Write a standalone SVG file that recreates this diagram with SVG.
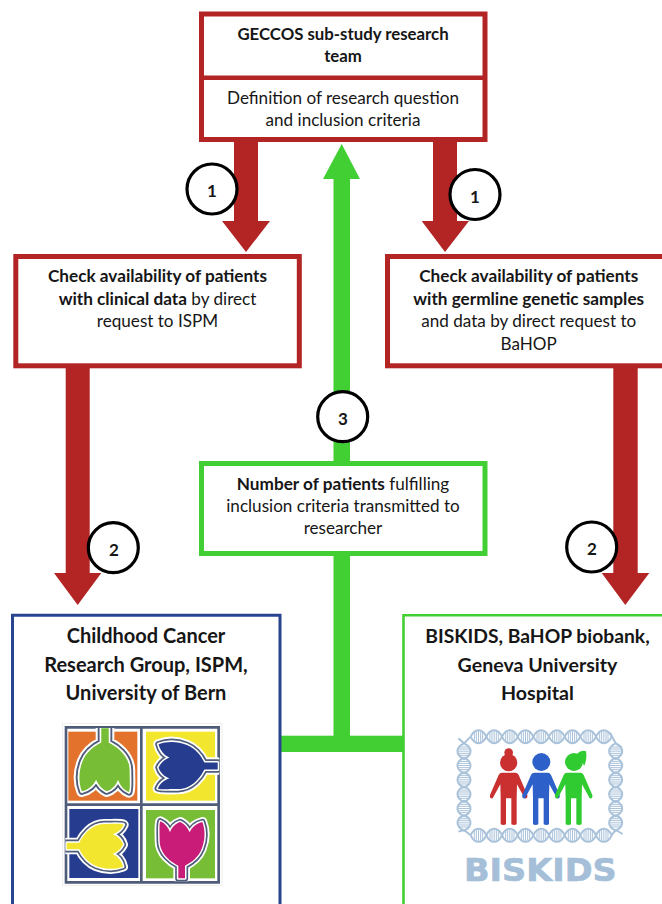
<svg xmlns="http://www.w3.org/2000/svg" xmlns:xlink="http://www.w3.org/1999/xlink" width="662" height="904" viewBox="0 0 662 904">
<style>
text{font-family:Lato,"Open Sans","Liberation Sans",sans-serif;fill:#161616;text-anchor:middle}
.t{font-size:17.100px}
.h{font-size:20px;font-weight:700}
.b{font-weight:700;font-size:17.200px}
.n{font-size:17px;font-weight:700}
.red{fill:#fff;stroke:#b32524;stroke-width:5}
.grn{fill:#fff;stroke:#42cf33;stroke-width:5}
.ra{fill:#b32524}
.ga{fill:#42cf33}
.c{fill:#fff;stroke:#000;stroke-width:3.2}
.hx{fill:none;stroke:#a9c2da;stroke-width:6}
.rg{stroke:#a9c2da;stroke-width:3}
.o1{fill:#fff;stroke:#fff;stroke-width:30;stroke-linejoin:round}
.o2{fill:#4f5d7a;stroke:#4f5d7a;stroke-width:19;stroke-linejoin:round}
.o3{fill:#fff;stroke:#fff;stroke-width:9;stroke-linejoin:round}
.fr{fill:none;stroke:#4f5d7a;stroke-width:8}
</style>
<defs>
<path id="tulip" d="M-10,103 L-10,65 C-30,55 -66,30 -66,-10 C-66,-40 -68,-60 -64,-68 C-50,-62 -40,-50 -35,-35 C-30,-50 -18,-62 -4,-66 C8,-60 18,-50 24,-35 C30,-50 45,-62 62,-66 C72,-40 70,-10 60,15 C50,40 30,55 10,65 L10,103 Z"/>
<clipPath id="t1"><rect x="82" y="54" width="218" height="226"/></clipPath>
<clipPath id="t2"><rect x="308" y="56" width="230" height="224"/></clipPath>
<clipPath id="t3"><rect x="76" y="288" width="224" height="225"/></clipPath>
<clipPath id="t4"><rect x="308" y="288" width="224" height="226"/></clipPath>
<g id="lens">
<path class="hx" d="M0,0 C12,-26 35,-26 47,0 C35,26 12,26 0,0"/>
<path class="rg" d="M11,-13V13M17,-16V16M23.500,-17V17M30,-16V16M36,-13V13"/>
</g>
<path id="person" d="M-20,33 H20 Q27,33 30,40 L56,100 Q58,112 48,110 L25,68 L24,110 V188 Q16,192 8,188 V110 H-8 V188 Q-16,192 -24,188 V110 L-25,68 L-48,110 Q-58,112 -56,100 L-30,40 Q-27,33 -20,33 Z"/>
</defs>

<g id="connectors">
<path class="ra" d="M234,140H258V221H270L246,252L222,221H234Z"/>
<path class="ra" d="M433,140H457V221H469L445,252L421.700,221H433Z"/>
<path class="ra" d="M65.700,366H89.700V573H101.300L77.700,605L54,573H65.700Z"/>
<path class="ra" d="M613.300,366H637.700V573H649.300L625.300,605L601.700,573H613.300Z"/>
<path class="ga" d="M333.500,465V179H323L341.700,144L360,179H350V465Z"/>
<rect class="ga" x="333.500" y="553" width="16.500" height="190"/>
<rect class="ga" x="280" y="735.700" width="124" height="16.300"/>
</g>

<g id="team-box">
<rect class="red" x="201.500" y="14" width="283.500" height="125.500"/>
<path d="M201.500,77.800H485" fill="none" stroke="#b32524" stroke-width="4.500"/>
<text class="t b" x="343" y="40" style="font-size:16.800px">GECCOS sub-study research</text>
<text class="t b" x="343" y="62" style="font-size:16.800px">team</text>
<text class="t" x="343" y="104">Definition of research question</text>
<text class="t" x="343" y="126">and inclusion criteria</text>
</g>

<g id="check-clinical">
<rect class="red" x="15.800" y="256.500" width="283.500" height="109.300"/>
<text class="t" x="157.500" y="282"><tspan class="b">Check availability of patients</tspan></text>
<text class="t" x="157.500" y="305"><tspan class="b">with clinical data</tspan> by direct</text>
<text class="t" x="157.500" y="327">request to ISPM</text>
</g>

<g id="check-germline">
<rect class="red" x="387.500" y="256.500" width="290" height="109.300"/>
<text class="t" x="528.700" y="282"><tspan class="b">Check availability of patients</tspan></text>
<text class="t" x="528.700" y="305"><tspan class="b">with germline genetic samples</tspan></text>
<text class="t" x="528.700" y="327">and data by direct request to</text>
<text class="t" x="528.700" y="350">BaHOP</text>
</g>

<g id="patients-box">
<rect class="grn" x="201.500" y="463.500" width="283.500" height="90"/>
<text class="t" x="343" y="490"><tspan class="b">Number of patients</tspan> fulfilling</text>
<text class="t" x="343" y="512">inclusion criteria transmitted to</text>
<text class="t" x="343" y="534">researcher</text>
</g>

<g id="ispm-box">
<path d="M12.500,910V615.300H280V910" fill="#fff" stroke="#2a4590" stroke-width="3"/>
<text class="h" x="146" y="643">Childhood Cancer</text>
<text class="h" x="146" y="672">Research Group, ISPM,</text>
<text class="h" x="146" y="700">University of Bern</text>
<g transform="translate(40 710) scale(.33333)">
<rect x="68" y="40" width="478" height="486" fill="#fff" stroke="#eee" stroke-width="3"/>
<rect x="85" y="65" width="207" height="207" fill="#e2722c"/>
<rect x="318" y="65" width="207" height="207" fill="#f2e62e"/>
<rect x="88" y="297" width="207" height="207" fill="#263c8e"/>
<rect x="318" y="300" width="207" height="205" fill="#78bd36"/>
<path class="fr" d="M78,52H536V517H78ZM304,52V517M78,284H536"/>
<g clip-path="url(#t1)"><g transform="translate(195 170) rotate(180) scale(1.12)"><use xlink:href="#tulip" href="#tulip" class="o1"/><use xlink:href="#tulip" href="#tulip" class="o2"/><use xlink:href="#tulip" href="#tulip" class="o3"/><use xlink:href="#tulip" href="#tulip" fill="#78bd36"/></g></g>
<g clip-path="url(#t2)"><g transform="translate(425 168) rotate(-90) scale(1.05)"><use xlink:href="#tulip" href="#tulip" class="o1"/><use xlink:href="#tulip" href="#tulip" class="o2"/><use xlink:href="#tulip" href="#tulip" class="o3"/><use xlink:href="#tulip" href="#tulip" fill="#263c8e"/></g></g>
<g clip-path="url(#t3)"><g transform="translate(183 408) rotate(90)"><use xlink:href="#tulip" href="#tulip" class="o1"/><use xlink:href="#tulip" href="#tulip" class="o2"/><use xlink:href="#tulip" href="#tulip" class="o3"/><use xlink:href="#tulip" href="#tulip" fill="#f2e62e"/></g></g>
<g clip-path="url(#t4)"><g transform="translate(425 402)"><use xlink:href="#tulip" href="#tulip" class="o1"/><use xlink:href="#tulip" href="#tulip" class="o2"/><use xlink:href="#tulip" href="#tulip" class="o3"/><use xlink:href="#tulip" href="#tulip" fill="#c81c78"/></g></g>
</g>
</g>

<g id="biskids-box">
<path d="M403.500,910V615.300H670V910" fill="#fff" stroke="#42cf33" stroke-width="2.600"/>
<text class="h" x="537.500" y="643" style="font-size:19.300px">BISKIDS, BaHOP biobank,</text>
<text class="h" x="537.500" y="672" style="font-size:19.600px">Geneva University</text>
<text class="h" x="537.500" y="700" style="font-size:19.600px">Hospital</text>
<g transform="translate(440 720) scale(.33333)">
<g id="dna-top"><use xlink:href="#lens" href="#lens" x="92" y="50"/><use xlink:href="#lens" href="#lens" x="139" y="50"/><use xlink:href="#lens" href="#lens" x="186" y="50"/><use xlink:href="#lens" href="#lens" x="233" y="50"/><use xlink:href="#lens" href="#lens" x="280" y="50"/><use xlink:href="#lens" href="#lens" x="327" y="50"/><use xlink:href="#lens" href="#lens" x="374" y="50"/><use xlink:href="#lens" href="#lens" x="421" y="50"/><use xlink:href="#lens" href="#lens" x="468" y="50"/></g>
<use xlink:href="#dna-top" href="#dna-top" y="296"/>
<g id="dna-left"><use xlink:href="#lens" href="#lens" transform="translate(72 70) rotate(90)"/><use xlink:href="#lens" href="#lens" transform="translate(72 113) rotate(90)"/><use xlink:href="#lens" href="#lens" transform="translate(72 156) rotate(90)"/><use xlink:href="#lens" href="#lens" transform="translate(72 199) rotate(90)"/><use xlink:href="#lens" href="#lens" transform="translate(72 242) rotate(90)"/><use xlink:href="#lens" href="#lens" transform="translate(72 285) rotate(90)"/></g>
<use xlink:href="#dna-left" href="#dna-left" x="455"/>
<path class="hx" d="M55,55L72,70L92,50M510,38L527,70L545,82M55,335L72,330L92,346M514,346L527,330L548,342"/>
<use xlink:href="#person" href="#person" fill="#c9302f" transform="translate(206 125)"/>
<circle cx="206" cy="128" r="26" fill="#c9302f"/><circle cx="206" cy="98" r="13" fill="#c9302f"/>
<use xlink:href="#person" href="#person" fill="#2d60c8" transform="translate(303 125)"/>
<circle cx="304" cy="126" r="27" fill="#2d60c8"/>
<use xlink:href="#person" href="#person" fill="#2fcb30" transform="translate(401 125)"/>
<circle cx="402" cy="126" r="27" fill="#2fcb30"/><path d="M410,102Q425,88 438,94Q442,120 432,138Q426,118 415,112Z" fill="#2fcb30"/>
<text x="301" y="484" textLength="458" lengthAdjust="spacingAndGlyphs" stroke="#a5bfd8" stroke-width="2" style="font-family:'DejaVu Sans',sans-serif;font-weight:700;font-size:96px;fill:#a5bfd8">BISKIDS</text>
</g>
</g>

<g id="badges">
<circle class="c" cx="212" cy="189" r="25"/><text class="n" x="212" y="197">1</text>
<circle class="c" cx="475" cy="194.500" r="25"/><text class="n" x="475" y="203">1</text>
<circle class="c" cx="342.700" cy="416.700" r="25"/><text class="n" x="343" y="425">3</text>
<circle class="c" cx="113.300" cy="547.700" r="25"/><text class="n" x="114" y="556">2</text>
<circle class="c" cx="591.700" cy="547" r="25"/><text class="n" x="592" y="555">2</text>
</g>
</svg>
